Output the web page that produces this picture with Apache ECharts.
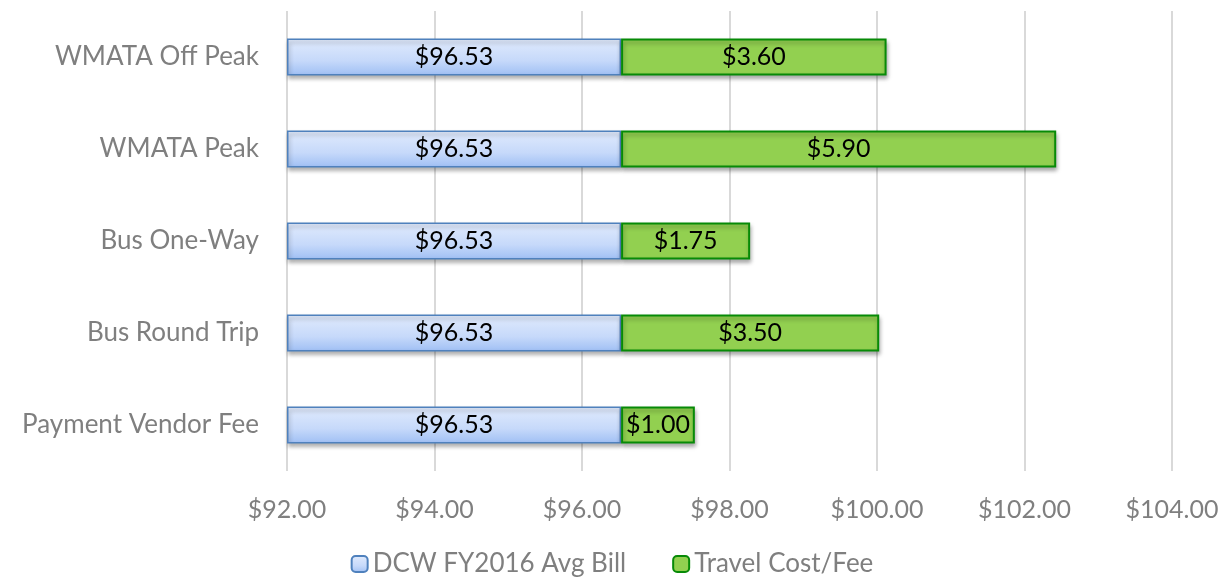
<!DOCTYPE html>
<html>
<head>
<meta charset="utf-8">
<script src="https://cdn.jsdelivr.net/npm/echarts@6/dist/echarts.min.js"></script>
<style>
  html, body { margin: 0; padding: 0; background: #fff; }
  #chart { width: 1224px; height: 580px; }
</style>
</head>
<body>
<div id="chart"></div>
<script>
// categories listed top to bottom
const categories = ["WMATA Off Peak", "WMATA Peak", "Bus One-Way", "Bus Round Trip", "Payment Vendor Fee"];
const avgBill = [96.53, 96.53, 96.53, 96.53, 96.53];
const travelCost = [3.60, 5.90, 1.75, 3.50, 1.00];
const axisMin = 92;
const axisMax = 104;
const axisStep = 2;

const fontFamily = "Lato, 'Open Sans', sans-serif";
const money = (v) => "$" + v.toFixed(2);

const chart = echarts.init(document.getElementById("chart"));

chart.setOption({
  animation: false,
  textStyle: { fontFamily },
  grid: {
    top: 11,
    left: 287,
    right: 52,
    bottom: 109,
    containLabel: false,
  },
  legend: {
    bottom: -2,
    left: "center",
    itemWidth: 16,
    itemHeight: 16,
    itemGap: 46,
    data: ["DCW FY2016 Avg Bill", "Travel Cost/Fee"],
    textStyle: { color: "#7f7f7f", fontSize: 26, fontFamily },
  },
  xAxis: {
    type: "value",
    min: axisMin,
    max: axisMax,
    interval: axisStep,
    axisLine: { show: false },
    axisTick: { show: false },
    axisLabel: {
      color: "#7f7f7f",
      fontSize: 25,
      margin: 26,
      formatter: (v) => money(v),
    },
    splitLine: { lineStyle: { color: "#d9d9d9", width: 2 } },
  },
  yAxis: {
    type: "category",
    inverse: true,
    data: categories,
    axisLine: { show: false },
    axisTick: { show: false },
    axisLabel: { color: "#7f7f7f", fontSize: 26, margin: 28 },
  },
  series: [
    {
      // invisible offset so bars start at the axis minimum
      name: "base",
      type: "bar",
      stack: "total",
      silent: true,
      barWidth: 37,
      itemStyle: { color: "transparent" },
      data: categories.map(() => axisMin),
    },
    {
      name: "DCW FY2016 Avg Bill",
      type: "bar",
      stack: "total",
      barWidth: 37,
      data: avgBill.map((v) => +(v - axisMin).toFixed(2)),
      itemStyle: {
        color: new echarts.graphic.LinearGradient(0, 0, 0, 1, [
          { offset: 0, color: "#e1ebfd" },
          { offset: 0.6, color: "#c6d9fa" },
          { offset: 1, color: "#9fbff4" },
        ]),
        borderColor: "#4f81bd",
        borderWidth: 1.5,
        shadowColor: "rgba(0,0,0,0.3)",
        shadowBlur: 4,
        shadowOffsetY: 3,
        shadowOffsetX: 1,
      },
      label: {
        show: true,
        position: "inside",
        color: "#000",
        fontSize: 25,
        formatter: (p) => money(avgBill[p.dataIndex]),
      },
    },
    {
      name: "Travel Cost/Fee",
      type: "bar",
      stack: "total",
      barWidth: 37,
      data: travelCost,
      itemStyle: {
        color: "#92d050",
        borderColor: "#078a07",
        borderWidth: 2,
        shadowColor: "rgba(0,0,0,0.3)",
        shadowBlur: 4,
        shadowOffsetY: 3,
        shadowOffsetX: 1,
      },
      label: {
        show: true,
        position: "inside",
        color: "#000",
        fontSize: 25,
        formatter: (p) => money(travelCost[p.dataIndex]),
      },
    },
  ],
});
</script>
</body>
</html>
